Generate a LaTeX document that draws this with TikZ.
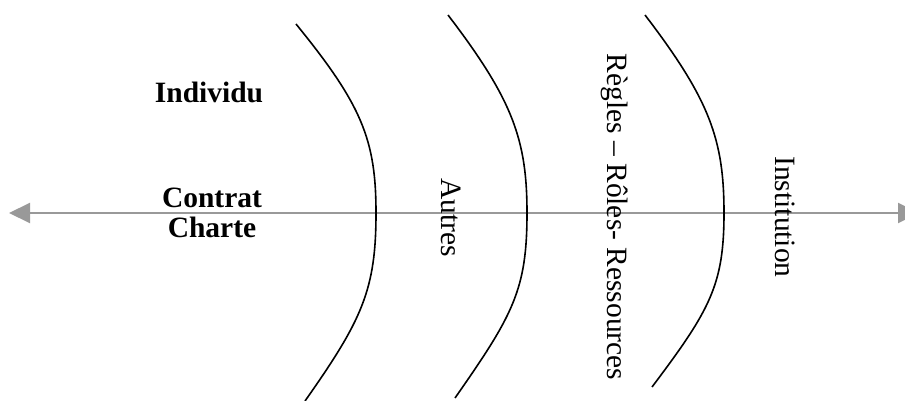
\documentclass[tikz,border=0pt]{standalone}
\usepackage{fontspec}
\setmainfont{Liberation Serif}
\usetikzlibrary{positioning,arrows.meta}

\begin{document}
\begin{tikzpicture}[x=1pt, y=-1pt, >={Triangle[length=21pt,width=20pt]},
  axis/.style={draw=black!40, fill=black!40, line width=2pt},
  border/.style={draw=black, line width=1.6pt},
  side/.style={font=\fontsize{29.5}{32}\selectfont\bfseries, inner sep=0pt, anchor=base},
  layer/.style={font=\fontsize{29.5}{32}\selectfont, inner sep=0pt, rotate=-90}]
  \useasboundingbox (0,0) rectangle (905,401);
  % the axis
  \coordinate (west) at (9,213);
  \coordinate (east) at (919,213);
  \draw[axis, <->] (west) -- (east);
  % the three borders
  \draw[border] (296,24) .. controls (362,105) and (376,140) .. (376,213)
    .. controls (376,290) and (362,320) .. (305,401);
  \draw[border] (448,15) .. controls (513,100) and (527,140) .. (527,213)
    .. controls (527,290) and (513,315) .. (455,398);
  \draw[border] (645,15) .. controls (710,100) and (724,140) .. (724,213)
    .. controls (724,285) and (710,310) .. (652,387);
  % labels
  \node[side] (individu) at (209,103) {Individu};
  \node[side] (contrat) at (212,207) {Contrat};
  \node[side, below=30pt of contrat.base, anchor=base] (charte) {Charte};
  \node[layer] (autres) at (451,218) {Autres};
  \node[layer] (regles) at (615,217) {Règles – Rôles- Ressources};
  \node[layer] (institution) at (785,217) {Institution};
\end{tikzpicture}
\end{document}
